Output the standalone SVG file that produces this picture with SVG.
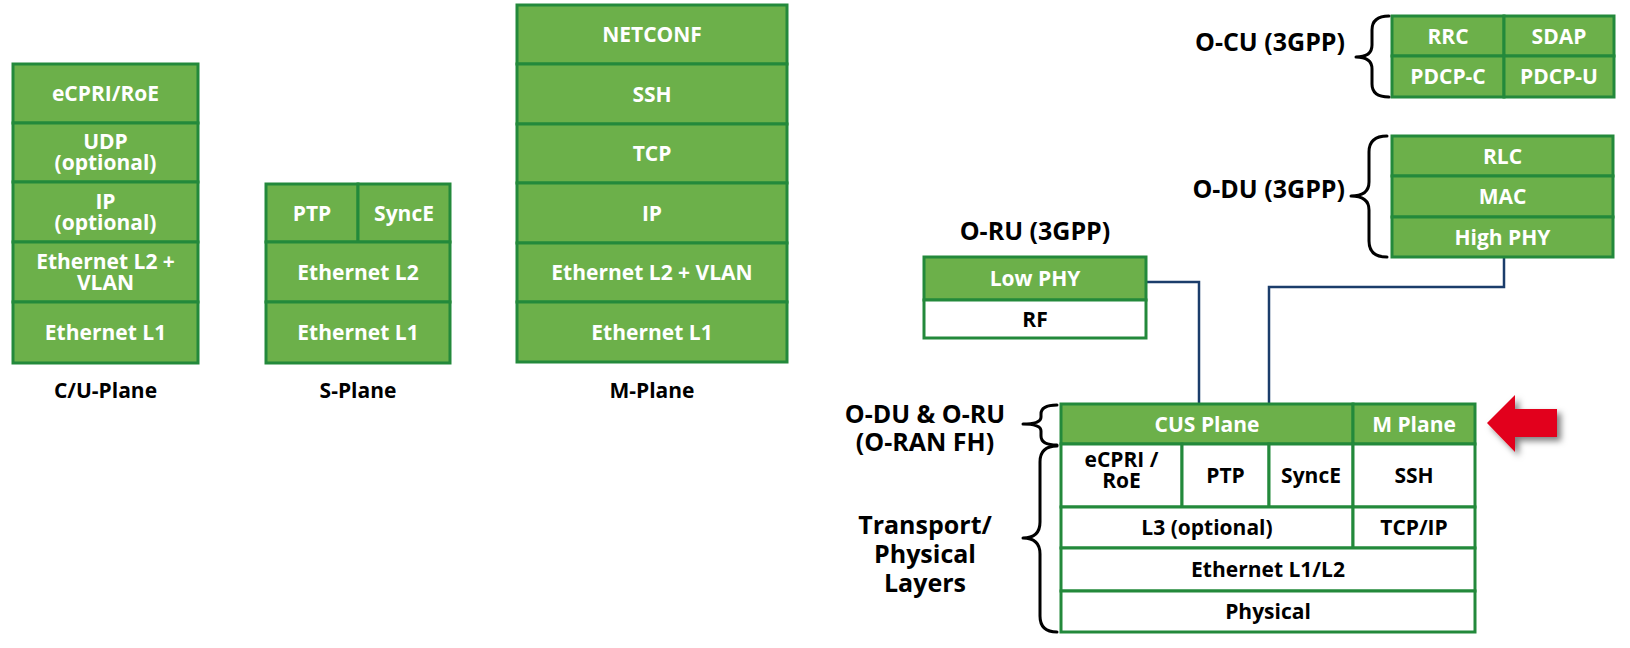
<svg xmlns="http://www.w3.org/2000/svg" width="1630" height="648" viewBox="0 0 1630 648">
<style>
.g{fill:#6cb04a;stroke:#23893b;stroke-width:3}
.w{fill:#ffffff;stroke:#23893b;stroke-width:3}
.tw{fill:#ffffff;font-family:"Open Sans","Noto Sans","Liberation Sans",sans-serif;font-weight:bold;font-size:21px;text-anchor:middle}
.tb{fill:#000000;font-family:"Open Sans","Noto Sans","Liberation Sans",sans-serif;font-weight:bold;font-size:21px;text-anchor:middle}
.lbl{fill:#000000;font-family:"Open Sans","Noto Sans","Liberation Sans",sans-serif;font-weight:bold;font-size:25px}
.brace{fill:none;stroke:#000000;stroke-width:3;stroke-linejoin:round;stroke-linecap:round}
.conn{fill:none;stroke:#1b3d6b;stroke-width:2.5}
</style>
<defs>
<filter id="shadow" x="-30%" y="-30%" width="170%" height="170%">
<feDropShadow dx="4" dy="4" stdDeviation="3" flood-color="#000000" flood-opacity="0.5"/>
</filter>
</defs>
<rect width="1630" height="648" fill="#ffffff"/>

<g id="connectors">
<path class="conn" d="M1146,282 H1199 V404"/>
<path class="conn" d="M1504,257 V287 H1269 V404"/>
</g>

<g id="cu-plane">
<rect class="g" x="13" y="64" width="185" height="59"/>
<rect class="g" x="13" y="123" width="185" height="59"/>
<rect class="g" x="13" y="182" width="185" height="60"/>
<rect class="g" x="13" y="242" width="185" height="60"/>
<rect class="g" x="13" y="302" width="185" height="61"/>
<text class="tw" x="105.5" y="101">eCPRI/RoE</text>
<text class="tw" x="105.5" y="149">UDP<tspan x="105.5" dy="21">(optional)</tspan></text>
<text class="tw" x="105.5" y="209">IP<tspan x="105.5" dy="21">(optional)</tspan></text>
<text class="tw" x="105.5" y="269">Ethernet L2 +<tspan x="105.5" dy="21">VLAN</tspan></text>
<text class="tw" x="105.5" y="340">Ethernet L1</text>
<text class="tb" x="105.5" y="398">C/U-Plane</text>
</g>

<g id="s-plane">
<rect class="g" x="266" y="184" width="92" height="58"/>
<rect class="g" x="358" y="184" width="92" height="58"/>
<rect class="g" x="266" y="242" width="184" height="60"/>
<rect class="g" x="266" y="302" width="184" height="61"/>
<text class="tw" x="312" y="220.5">PTP</text>
<text class="tw" x="404" y="220.5">SyncE</text>
<text class="tw" x="358" y="279.5">Ethernet L2</text>
<text class="tw" x="358" y="340">Ethernet L1</text>
<text class="tb" x="358" y="398">S-Plane</text>
</g>

<g id="m-plane">
<rect class="g" x="517" y="5" width="270" height="59"/>
<rect class="g" x="517" y="64" width="270" height="60"/>
<rect class="g" x="517" y="124" width="270" height="59"/>
<rect class="g" x="517" y="183" width="270" height="60"/>
<rect class="g" x="517" y="243" width="270" height="59"/>
<rect class="g" x="517" y="302" width="270" height="60"/>
<text class="tw" x="652" y="42">NETCONF</text>
<text class="tw" x="652" y="101.5">SSH</text>
<text class="tw" x="652" y="161">TCP</text>
<text class="tw" x="652" y="220.5">IP</text>
<text class="tw" x="652" y="280">Ethernet L2 + VLAN</text>
<text class="tw" x="652" y="339.5">Ethernet L1</text>
<text class="tb" x="652" y="398">M-Plane</text>
</g>

<g id="o-cu">
<rect class="g" x="1392" y="16" width="112" height="40"/>
<rect class="g" x="1504" y="16" width="110" height="40"/>
<rect class="g" x="1392" y="56" width="112" height="41"/>
<rect class="g" x="1504" y="56" width="110" height="41"/>
<text class="tw" x="1448" y="43.5">RRC</text>
<text class="tw" x="1559" y="43.5">SDAP</text>
<text class="tw" x="1448" y="84">PDCP-C</text>
<text class="tw" x="1559" y="84">PDCP-U</text>
<path class="brace" d="M1389,16 Q1372,16 1372,30 V45 Q1372,57 1356,57 Q1372,57 1372,69 V84 Q1372,97 1389,97"/>
<text class="lbl" x="1345" y="51" text-anchor="end">O-CU (3GPP)</text>
</g>

<g id="o-du">
<rect class="g" x="1392" y="136" width="221" height="40"/>
<rect class="g" x="1392" y="176" width="221" height="41"/>
<rect class="g" x="1392" y="217" width="221" height="40"/>
<text class="tw" x="1502.5" y="163.5">RLC</text>
<text class="tw" x="1502.5" y="204">MAC</text>
<text class="tw" x="1502.5" y="244.5">High PHY</text>
<path class="brace" d="M1387,136 Q1369,136 1369,152 V182 Q1369,196 1351,196 Q1369,196 1369,210 V241 Q1369,257 1387,257"/>
<text class="lbl" x="1345" y="198" text-anchor="end">O-DU (3GPP)</text>
</g>

<g id="o-ru">
<rect class="g" x="924" y="257" width="222" height="43"/>
<rect class="w" x="924" y="300" width="222" height="38"/>
<text class="tw" x="1035" y="286">Low PHY</text>
<text class="tb" x="1035" y="326.5">RF</text>
<text class="lbl" x="1035" y="240" text-anchor="middle">O-RU (3GPP)</text>
</g>

<g id="fronthaul">
<rect class="g" x="1061" y="404" width="292" height="40"/>
<rect class="g" x="1353" y="404" width="122" height="40"/>
<rect class="w" x="1061" y="444" width="121" height="63"/>
<rect class="w" x="1182" y="444" width="87" height="63"/>
<rect class="w" x="1269" y="444" width="84" height="63"/>
<rect class="w" x="1353" y="444" width="122" height="63"/>
<rect class="w" x="1061" y="507" width="292" height="41"/>
<rect class="w" x="1353" y="507" width="122" height="41"/>
<rect class="w" x="1061" y="548" width="414" height="43"/>
<rect class="w" x="1061" y="591" width="414" height="41"/>
<text class="tw" x="1207" y="431.5">CUS Plane</text>
<text class="tw" x="1414" y="431.5">M Plane</text>
<text class="tb" x="1121.5" y="467">eCPRI /<tspan x="1121.5" dy="21">RoE</tspan></text>
<text class="tb" x="1225.5" y="483">PTP</text>
<text class="tb" x="1311" y="483">SyncE</text>
<text class="tb" x="1414" y="483">SSH</text>
<text class="tb" x="1207" y="535">L3 (optional)</text>
<text class="tb" x="1414" y="535">TCP/IP</text>
<text class="tb" x="1268" y="577">Ethernet L1/L2</text>
<text class="tb" x="1268" y="619">Physical</text>
</g>

<g id="fh-labels">
<path class="brace" d="M1057,405 Q1041,405 1041,414 V417 Q1041,424 1023,424 Q1041,424 1041,431 V436 Q1041,445 1057,445"/>
<path class="brace" d="M1057,446 Q1040,446 1040,462 V522 Q1040,538 1023,538 Q1040,538 1040,554 V616 Q1040,632 1057,632"/>
<text class="lbl" x="925" y="423" text-anchor="middle">O-DU &amp; O-RU<tspan x="925" dy="28">(O-RAN FH)</tspan></text>
<text class="lbl" x="925" y="534" text-anchor="middle">Transport/<tspan x="925" dy="29">Physical</tspan><tspan x="925" dy="29">Layers</tspan></text>
</g>

<g id="red-arrow">
<polygon points="1487,423 1515,395 1515,409 1557,409 1557,437 1515,437 1515,452" fill="#e2001a" filter="url(#shadow)"/>
</g>
</svg>
